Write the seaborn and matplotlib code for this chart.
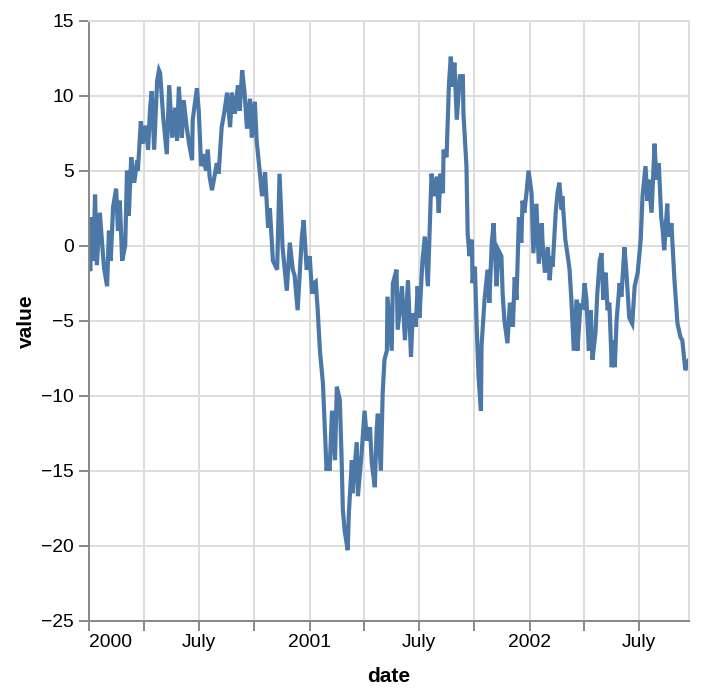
import matplotlib
matplotlib.use("Agg")
import matplotlib.pyplot as plt
import seaborn as sns
import pandas as pd

start_date = "2000-01-01"

# days after start_date
day_offsets = [
    0, 2, 5, 7, 10, 13, 18, 22, 25, 30, 33, 36, 40, 45, 48, 51, 55, 60, 63, 66,
    70, 75, 80, 81, 86, 89, 94, 98, 101, 104, 108, 113, 116, 118, 123, 129, 133, 138, 143, 146,
    149, 154, 157, 162, 166, 171, 172, 179, 182, 186, 189, 194, 197, 200, 204, 209, 212, 215, 220, 224,
    229, 234, 237, 242, 247, 250, 254, 258, 262, 267, 270, 275, 278, 283, 287, 292, 297, 300, 305, 312,
    316, 321, 328, 333, 338, 341, 346, 353, 356, 361, 366, 370, 373, 376, 379, 383, 388, 391, 394, 396,
    399, 403, 408, 411, 416, 419, 421, 424, 429, 431, 436, 437, 444, 446, 452, 457, 461, 466, 469, 474,
    477, 479, 484, 487, 490, 494, 495, 502, 504, 510, 512, 519, 524, 529, 534, 537, 542, 545, 548, 553,
    557, 562, 565, 568, 573, 577, 580, 583, 587, 588, 593, 597, 600, 603, 606, 610, 615, 620, 621, 626,
    628, 631, 635, 636, 640, 643, 646, 650, 651, 656, 661, 664, 668, 671, 676, 679, 684, 686, 689, 694,
    698, 703, 706, 709, 713, 717, 719, 722, 726, 729, 734, 737, 742, 746, 751, 752, 756, 761, 764, 767,
    769, 774, 777, 780, 784, 785, 790, 794, 797, 800, 804, 809, 810, 815, 819, 822, 825, 829, 832, 835,
    840, 843, 847, 850, 853, 857, 860, 863, 867, 868, 872, 875, 880, 883, 888, 891, 896, 901, 905, 910,
    915, 918, 923, 926, 928, 933, 938, 941, 945, 949, 951, 954, 959, 961, 966, 968, 971, 976, 981, 984,
    989, 995,
]

values = [
    0, -1.7, 1.9, -1, 3.4, -1.3, 2.2, 0, -1.5, -2.7, 1.0, -1, 2.6, 3.8, 1, 3.0, -1, 0, 5.0, 2,
    5.9, 4.2, 5.7, 5, 8.3, 6.8, 8, 6.4, 9, 10.3, 6.4, 11, 11.7, 11.5, 8.6, 6.1, 10.7, 7.2, 9.2, 7,
    10.6, 7.2, 9.7, 7.9, 6.8, 5.7, 8.4, 10.5, 9, 5.3, 6.1, 5, 6.4, 4.6, 3.7, 4.8, 5.5, 4.8, 7.9, 8.8,
    10.2, 7.9, 10.2, 8.8, 10.7, 9, 11.7, 10.2, 7.8, 9.8, 7.2, 9.6, 7, 5, 3.3, 4.9, 1.2, 2.5, -1, -1.6,
    4.8, -0.1, -3, 0.2, -1.6, -2, -4.3, 0.6, 1.7, -1.6, -0.7, -3.2, -2.5, -2.4, -4.1, -7, -9.2, -12.1, -15, -14.3,
    -15, -11, -14.3, -9.4, -10.3, -14.3, -17.6, -19, -20.3, -17.8, -14.3, -16.5, -13.1, -16.7, -13.9, -11, -13, -12.1, -14.5, -16.1,
    -12.3, -11.2, -15, -9.9, -7.6, -7, -3.4, -7, -2.5, -1.6, -5.6, -2.7, -6.3, -2.3, -7.4, -4.5, -5.4, -2.7, -4.8, -1,
    0.6, -2.7, 1, 4.8, 3.3, 4.6, 2.2, 4.8, 3.5, 6.4, 5.9, 10.8, 12.6, 10.6, 12.2, 8.4, 11.3, 11.3, 8.8, 5.3,
    0.8, -0.7, 0.4, -2.5, -1.4, -5.4, -8.7, -11, -6.7, -3.6, -1.6, -3.8, 0.2, 1.5, -2.7, -0.3, -0.7, -3.2, -5, -6.5,
    -3.8, -5.4, -2.1, -3.6, 1.9, 0.2, 3, 2.2, 3.7, 5, 3.5, -0.5, 2.8, -1.2, 1.5, 0.4, -1.8, -0.1, -2.3, -0.7,
    -1.4, 2.2, 3.5, 4.2, 2.4, 3.3, 0.4, -0.7, -1.6, -3.6, -7, -3.6, -7, -4, -4.1, -2.5, -3.6, -7, -4.3, -7.6,
    -5.8, -3.2, -1, -0.5, -3.6, -1.8, -4.3, -3.8, -8.1, -6.3, -8.1, -5, -2.5, -3.4, -0.1, -1.6, -4.8, -5.2, -2.7, -1.8,
    0.4, 3.3, 5.3, 3, 4.4, 2.2, 6.8, 4.4, 5.5, 1.9, 1.2, -0.3, 2.8, 0.6, 1.5, -0.1, -2.3, -5.2, -6.1, -6.3,
    -8.3, -7.6,
]

tick_dates = ["2000-01-01", "2000-04-01", "2000-07-01", "2000-10-01",
              "2001-01-01", "2001-04-01", "2001-07-01", "2001-10-01",
              "2002-01-01", "2002-04-01", "2002-07-01"]
tick_labels = ["2000", "", "July", "", "2001", "", "July", "", "2002", "", "July"]
y_ticks = [-25, -20, -15, -10, -5, 0, 5, 10, 15]

df = pd.DataFrame({
    "date": pd.to_datetime(start_date) + pd.to_timedelta(day_offsets, unit="D"),
    "value": values,
})

sns.set_theme(style="white")
plt.rcParams["font.family"] = ["Liberation Sans", "DejaVu Sans"]
plt.rcParams["text.color"] = "black"
plt.rcParams["axes.labelcolor"] = "black"

fig = plt.figure(figsize=(7.02, 6.94), dpi=100)
ax = fig.add_axes([0.1268, 0.1056, 0.8546, 0.8646])

sns.lineplot(data=df, x="date", y="value", ax=ax, color="#4c78a8",
             linewidth=3.0, estimator=None, sort=False)
ax.lines[0].set_solid_joinstyle("miter")

ax.set_xlim(df["date"].min(), df["date"].max())
ax.set_ylim(y_ticks[0], y_ticks[-1])
ax.set_yticks(y_ticks)
ax.set_xticks(pd.to_datetime(tick_dates))
ax.set_xticklabels(tick_labels)
ax.get_xticklabels()[0].set_horizontalalignment("left")

ax.grid(True, color="#dddddd", linewidth=1.4)
ax.set_axisbelow(True)
for side in ["left", "bottom"]:
    ax.spines[side].set_color("#888888")
    ax.spines[side].set_linewidth(1.4)
for side in ["top", "right"]:
    ax.spines[side].set_color("#dddddd")
    ax.spines[side].set_linewidth(1.4)

ax.tick_params(axis="both", length=7.2, width=1.4, color="#888888",
               labelsize=13.9, labelcolor="black", bottom=True, left=True)
ax.tick_params(axis="x", pad=2.5)
ax.tick_params(axis="y", pad=3.6)

ax.set_xlabel("date", fontweight="bold", fontsize=15, labelpad=11.5, color="black")
ax.set_ylabel("value", fontweight="bold", fontsize=15, labelpad=3.5, color="black")

fig.savefig("out.png", dpi=100)
